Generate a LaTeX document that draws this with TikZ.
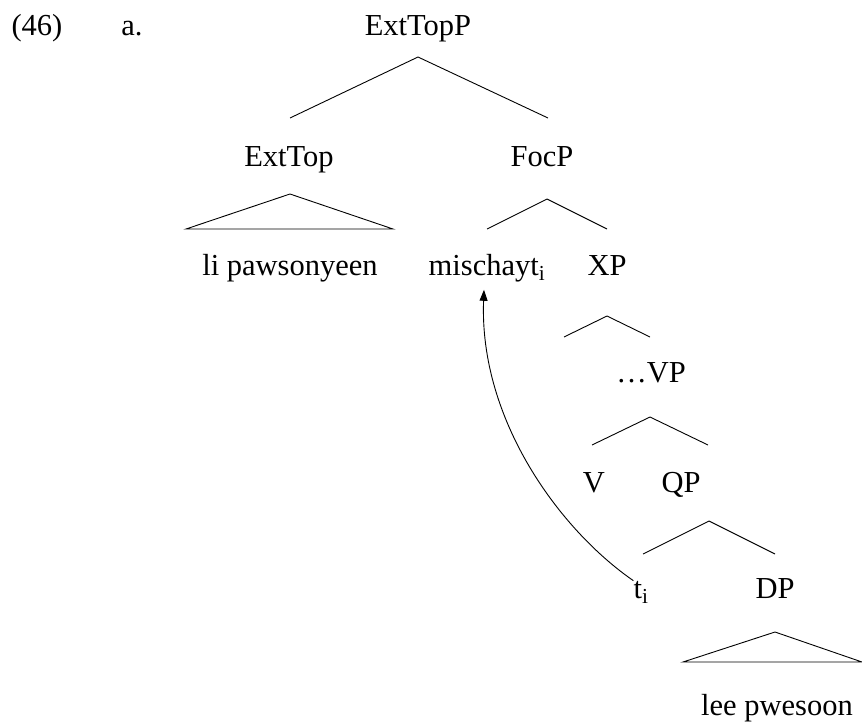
\documentclass[tikz,border=0pt]{standalone}
\usepackage{fontspec}
\setmainfont{Liberation Serif}
\usetikzlibrary{arrows.meta}
\begin{document}
\begin{tikzpicture}[x=1pt,y=-1pt,
  lbl/.style={inner sep=0pt, anchor=base, font=\fontsize{30.5}{36}\selectfont},
  branch/.style={line width=0.9pt},
  move/.style={line width=0.9pt, -{Triangle[length=11pt,width=8pt]}}]
\useasboundingbox (0,0) rectangle (862,723);

% example number
\node[lbl] (num) at (37,35) {(46)};
\node[lbl] (sub) at (132,35) {a.};

% labels of the tree
\node[lbl] (root)  at (418,35)  {ExtTopP};
\node[lbl] (top)   at (289,166) {ExtTop};
\node[lbl] (foc)   at (542,166) {FocP};
\node[lbl] (topw)  at (290,275) {li pawsonyeen};
\node[lbl] (mis)   at (487,275) {mischayt\textsubscript{i}};
\node[lbl] (xp)    at (607,275) {XP};
\node[lbl] (vp)    at (651,382) {\ldots VP};
\node[lbl] (v)     at (594,492) {V};
\node[lbl] (qp)    at (681,492) {QP};
\node[lbl] (ti)    at (641,598) {t\textsubscript{i}};
\node[lbl] (dp)    at (775,598) {DP};
\node[lbl] (dpw)   at (777,715) {lee pwesoon};

% branch points
\coordinate (r0) at (418,57);  \coordinate (r1) at (290,118); \coordinate (r2) at (548,118);
\coordinate (e0) at (290,194); \coordinate (e1) at (186,229); \coordinate (e2) at (393,229);
\coordinate (f0) at (547,199); \coordinate (f1) at (487,229); \coordinate (f2) at (607,229);
\coordinate (x0) at (607,316); \coordinate (x1) at (564,337); \coordinate (x2) at (650,337);
\coordinate (v0) at (650,417); \coordinate (v1) at (592,445); \coordinate (v2) at (708,445);
\coordinate (q0) at (709,521); \coordinate (q1) at (643,554); \coordinate (q2) at (775,554);
\coordinate (d0) at (775,632); \coordinate (d1) at (683,662); \coordinate (d2) at (862,662);

\draw[branch] (r1) -- (r0) -- (r2);
\draw[branch] (e1) -- (e0) -- (e2) -- cycle;
\draw[branch] (f1) -- (f0) -- (f2);
\draw[branch] (x1) -- (x0) -- (x2);
\draw[branch] (v1) -- (v0) -- (v2);
\draw[branch] (q1) -- (q0) -- (q2);
\draw[branch] (d1) -- (d0) -- (d2) -- cycle;

% movement of the trace to the focus position
\draw[move] (ti.north west) .. controls (560,530) and (479,420) .. ([shift={(-3,8)}]mis.south);
\end{tikzpicture}
\end{document}
